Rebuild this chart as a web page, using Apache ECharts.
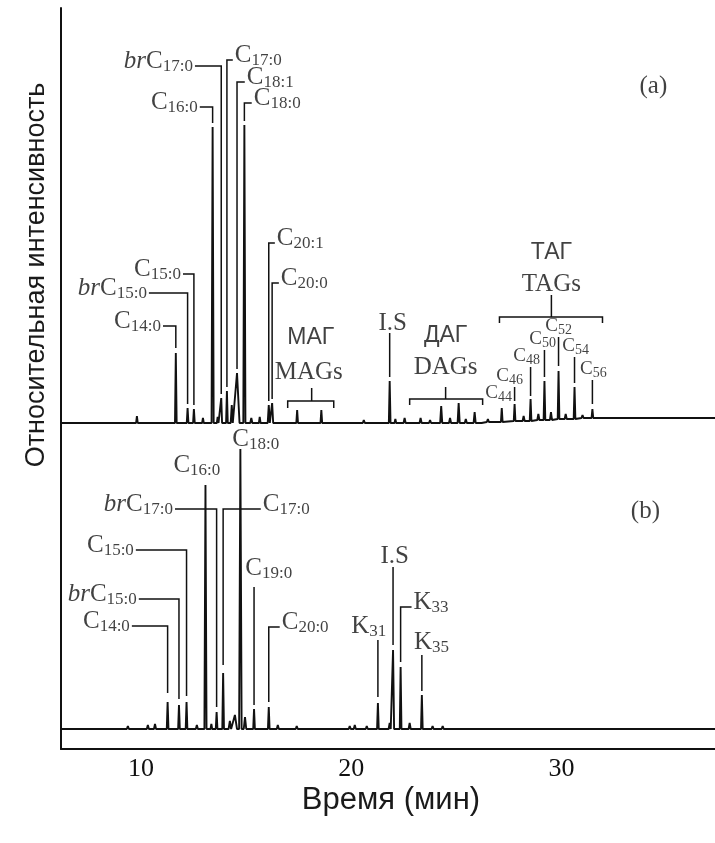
<!DOCTYPE html>
<html><head><meta charset="utf-8">
<script src="https://cdn.jsdelivr.net/npm/echarts@6/dist/echarts.min.js"></script>
<style>html,body{margin:0;padding:0;background:#fff}#c{width:715px;height:843px}</style>
</head><body><div id="c"></div>
<script>
// ---------- DATA ----------
const xRange = [6.2, 37.3];            // retention time axis (min)
const xTickValues = [10, 20, 30];
const yTitle = 'Относительная интенсивность';
const xTitle = 'Время (мин)';

// Panel (a): peaks [time (min), apex intensity, half width (min), local baseline]
const peaksA = [
  [9.81, 7, 0.04, 0], [11.66, 70, 0.04, 0], [12.22, 15, 0.04, 0], [12.52, 14, 0.04, 0],
  [12.95, 5, 0.04, 0], [13.41, 296, 0.05, 0], [13.65, 6, 0.04, 0], [13.82, 25, 0.04, 0],
  [14.09, 32, 0.04, 0], [14.32, 18, 0.05, 0], [14.57, 50, 0.12, 0], [14.92, 298, 0.05, 0],
  [15.25, 5, 0.05, 0], [15.65, 6, 0.04, 0], [16.08, 18, 0.05, 0], [16.24, 20, 0.05, 0],
  [17.43, 13, 0.04, 0], [18.58, 13, 0.04, 0], [20.60, 3, 0.05, 0], [21.83, 42, 0.04, 0],
  [22.10, 4, 0.04, 0], [22.54, 5, 0.05, 0], [23.30, 5, 0.05, 0], [23.75, 3, 0.05, 0],
  [24.28, 17, 0.05, 0], [24.70, 5, 0.05, 0], [25.11, 20, 0.05, 0], [25.45, 4, 0.05, 0],
  [25.87, 11, 0.05, 0], [26.50, 4, 0.05, 1], [27.16, 15, 0.04, 1], [27.77, 19, 0.04, 2],
  [28.20, 7, 0.05, 2], [28.53, 24, 0.04, 2], [28.90, 9, 0.05, 3], [29.19, 42, 0.04, 3],
  [29.50, 11, 0.05, 3], [29.86, 52, 0.04, 4], [30.20, 9, 0.05, 4], [30.62, 36, 0.04, 4],
  [31.00, 8, 0.05, 5], [31.47, 14, 0.04, 5]
];
const baselineA = [[6.2, 0], [26.2, 0], [27.0, 1], [28.0, 2], [29.0, 3], [30.0, 4], [31.2, 5], [32.0, 5], [37.3, 5]];

// Panel (b)
const peaksB = [
  [9.38, 3, 0.05, 0], [10.33, 4, 0.05, 0], [10.67, 5, 0.05, 0], [11.27, 27, 0.04, 0],
  [11.81, 24, 0.04, 0], [12.17, 27, 0.04, 0], [12.66, 4, 0.05, 0], [13.07, 244, 0.05, 0],
  [13.35, 5, 0.04, 0], [13.60, 17, 0.04, 0], [13.91, 56, 0.04, 0], [14.23, 8, 0.06, 0],
  [14.47, 14, 0.10, 0], [14.73, 280, 0.06, 0], [14.95, 12, 0.06, 0], [15.38, 20, 0.04, 0],
  [16.08, 22, 0.04, 0], [16.51, 4, 0.05, 0], [17.41, 3, 0.05, 0], [19.93, 3, 0.05, 0],
  [20.17, 4, 0.05, 0], [20.74, 3, 0.05, 0], [21.27, 26, 0.04, 0], [21.83, 6, 0.05, 0],
  [21.99, 79, 0.05, 0], [22.35, 62, 0.04, 0], [22.78, 6, 0.05, 0], [23.36, 34, 0.04, 0],
  [23.87, 3, 0.05, 0], [24.35, 3, 0.05, 0], [25.30, 2, 0.05, 0]
];
const baselineB = [[6.2, 0], [37.3, 0]];

// ---------- ANNOTATION LAYOUT (data coordinates) ----------
const leadersA = [
  [[11.05, 97], [11.66, 97], [11.66, 75]],
  [[10.38, 130], [12.22, 130], [12.22, 19]],
  [[12.00, 149], [12.52, 149], [12.52, 18]],
  [[12.80, 316], [13.41, 316], [13.41, 300]],
  [[12.57, 357], [13.82, 357], [13.82, 29]],
  [[14.37, 363], [14.09, 363], [14.09, 36]],
  [[14.94, 341], [14.57, 341], [14.57, 54]],
  [[15.27, 320], [14.92, 320], [14.92, 302]],
  [[16.37, 180], [16.08, 180], [16.08, 22]],
  [[16.56, 140], [16.24, 140], [16.24, 24]],
  [[21.83, 90], [21.83, 46]],
  [[27.77, 36], [27.77, 22]],
  [[28.53, 56], [28.53, 27]],
  [[29.19, 73], [29.19, 46]],
  [[29.86, 86], [29.86, 57]],
  [[30.62, 66], [30.62, 40]],
  [[31.47, 43], [31.47, 19]],
  [[16.98, 15], [16.98, 22], [19.17, 22], [19.17, 15]], [[18.12, 22], [18.12, 35]],
  [[22.78, 18], [22.78, 24], [26.25, 24], [26.25, 18]], [[24.49, 24], [24.49, 36]],
  [[27.05, 100], [27.05, 106], [31.95, 106], [31.95, 100]], [[29.52, 106], [29.52, 128]]
];
const leadersB = [
  [[9.57, 103], [11.27, 103], [11.27, 36]],
  [[9.90, 130], [11.81, 130], [11.81, 30]],
  [[9.76, 179], [12.17, 179], [12.17, 33]],
  [[11.62, 220], [13.60, 220], [13.60, 22]],
  [[15.70, 220], [13.91, 220], [13.91, 64]],
  [[15.38, 142], [15.38, 24]],
  [[16.60, 102], [16.08, 102], [16.08, 27]],
  [[21.27, 89], [21.27, 32]],
  [[21.99, 162], [21.99, 84]],
  [[22.87, 122], [22.35, 122], [22.35, 67]],
  [[23.36, 74], [23.36, 38]]
];
// labels: [text(rich), t, v, position]
const labelsA = [
  ['{i|br}{c|C}{s|17:0}', 12.57, 357, 'left'],
  ['{c|C}{s|16:0}', 12.80, 316, 'left'],
  ['{c|C}{s|15:0}', 12.00, 149, 'left'],
  ['{i|br}{c|C}{s|15:0}', 10.38, 130, 'left'],
  ['{c|C}{s|14:0}', 11.05, 97, 'left'],
  ['{c|C}{s|17:0}', 14.37, 363, 'right'],
  ['{c|C}{s|18:1}', 14.94, 341, 'right'],
  ['{c|C}{s|18:0}', 15.27, 320, 'right'],
  ['{c|C}{s|20:1}', 16.37, 180, 'right'],
  ['{c|C}{s|20:0}', 16.56, 140, 'right'],
  ['{c|I.S}', 21.97, 100, 'inside'],
  ['{t|C}{u|44}', 27.01, 30, 'inside'],
  ['{t|C}{u|46}', 27.53, 47, 'inside'],
  ['{t|C}{u|48}', 28.34, 67, 'inside'],
  ['{t|C}{u|50}', 29.10, 84, 'inside'],
  ['{t|C}{u|52}', 29.86, 97, 'inside'],
  ['{t|C}{u|54}', 30.67, 77, 'inside'],
  ['{t|C}{u|56}', 31.52, 54, 'inside'],
  ['{g|МАГ}', 18.08, 85, 'inside'],
  ['{m|MAGs}', 17.98, 51, 'inside'],
  ['{g|ДАГ}', 24.49, 87, 'inside'],
  ['{m|DAGs}', 24.49, 56, 'inside'],
  ['{g|ТАГ}', 29.52, 170, 'inside'],
  ['{m|TAGs}', 29.52, 139, 'inside'],
  ['{p|(a)}', 34.37, 337, 'inside']
];
const labelsB = [
  ['{c|C}{s|14:0}', 9.57, 103, 'left'],
  ['{i|br}{c|C}{s|15:0}', 9.90, 130, 'left'],
  ['{c|C}{s|15:0}', 9.76, 179, 'left'],
  ['{i|br}{c|C}{s|17:0}', 11.62, 220, 'left'],
  ['{c|C}{s|17:0}', 15.70, 220, 'right'],
  ['{c|C}{s|20:0}', 16.60, 102, 'right'],
  ['{c|K}{s|33}', 22.87, 122, 'right'],
  ['{c|C}{s|16:0}', 12.66, 264, 'inside'],
  ['{c|C}{s|18:0}', 15.46, 290, 'inside'],
  ['{c|C}{s|19:0}', 16.08, 161, 'inside'],
  ['{c|K}{s|31}', 20.83, 103, 'inside'],
  ['{c|I.S}', 22.07, 173, 'inside'],
  ['{c|K}{s|35}', 23.82, 87, 'inside'],
  ['{p|(b)}', 33.99, 218, 'inside']
];

// ---------- BUILD ----------
const INK = '#111';
function trace(peaks, knots) {
  const pts = knots.map(k => [k[0], k[1]]);
  peaks.forEach(p => { pts.push([p[0] - p[2], p[3]], [p[0], p[1]], [p[0] + p[2], p[3]]); });
  pts.sort((a, b) => a[0] - b[0]);
  return pts;
}
const rich = {
  c: { fontFamily: 'Liberation Serif', fontSize: 25, lineHeight: 28, color: INK },
  i: { fontFamily: 'Liberation Serif', fontStyle: 'italic', fontSize: 25, lineHeight: 28, color: INK },
  s: { fontFamily: 'Liberation Serif', fontSize: 17, lineHeight: 14, verticalAlign: 'bottom', color: INK },
  t: { fontFamily: 'Liberation Serif', fontSize: 19, lineHeight: 22, color: INK },
  u: { fontFamily: 'Liberation Serif', fontSize: 14, lineHeight: 11, verticalAlign: 'bottom', color: INK },
  g: { fontFamily: 'Liberation Sans', fontSize: 23, lineHeight: 26, color: INK },
  m: { fontFamily: 'Liberation Serif', fontSize: 25, lineHeight: 28, color: INK },
  p: { fontFamily: 'Liberation Serif', fontSize: 25, lineHeight: 28, color: INK }
};
function labelSeries(list, idx) {
  return {
    type: 'scatter', xAxisIndex: idx, yAxisIndex: idx, symbolSize: 0, silent: true, z: 5,
    data: list.map(l => ({
      value: [l[1], l[2]],
      label: {
        show: true, formatter: l[0], rich: rich, position: l[3], distance: 2,
        offset: l[3] === 'inside' ? [0, 0] : [0, -5]
      }
    }))
  };
}
function leaderSeries(list, idx) {
  return {
    type: 'lines', coordinateSystem: 'cartesian2d', polyline: true, xAxisIndex: idx, yAxisIndex: idx,
    silent: true, lineStyle: { color: INK, width: 1.5, opacity: 1 },
    data: list.map(c => ({ coords: c }))
  };
}
const axisLineStyle = { show: true, onZero: false, lineStyle: { color: INK, width: 2 } };
const chart = echarts.init(document.getElementById('c'));
chart.setOption({
  animation: false,
  backgroundColor: '#fff',
  grid: [
    { left: 61, right: 0, top: 8, height: 415 },
    { left: 61, right: 0, top: 423, height: 326 }
  ],
  xAxis: [
    { type: 'value', gridIndex: 0, min: xRange[0], max: xRange[1], show: false },
    { type: 'value', gridIndex: 1, min: xRange[0], max: xRange[1], axisLine: axisLineStyle,
      axisTick: { show: false }, splitLine: { show: false },
      axisLabel: { customValues: xTickValues, margin: 7, color: INK, fontFamily: 'Liberation Serif', fontSize: 26 } }
  ],
  yAxis: [
    { type: 'value', gridIndex: 0, min: 0, max: 415, axisLine: axisLineStyle, axisTick: { show: false },
      axisLabel: { show: false }, splitLine: { show: false } },
    { type: 'value', gridIndex: 1, min: -20, max: 306, axisLine: axisLineStyle, axisTick: { show: false },
      axisLabel: { show: false }, splitLine: { show: false } }
  ],
  graphic: [
    { type: 'text', x: 37, y: 275, rotation: Math.PI / 2,
      style: { text: yTitle, fontFamily: 'Liberation Sans', fontSize: 27, fill: '#1a1a1a', align: 'center', verticalAlign: 'middle', textAlign: 'center', textVerticalAlign: 'middle' } },
    { type: 'text', x: 391, y: 800,
      style: { text: xTitle, fontFamily: 'Liberation Sans', fontSize: 31, fill: '#1a1a1a', align: 'center', verticalAlign: 'middle', textAlign: 'center', textVerticalAlign: 'middle' } }
  ],
  series: [
    { type: 'line', xAxisIndex: 0, yAxisIndex: 0, data: trace(peaksA, baselineA), showSymbol: false, symbol: 'none',
      lineStyle: { color: INK, width: 1.9 }, clip: false, z: 3 },
    { type: 'line', xAxisIndex: 1, yAxisIndex: 1, data: trace(peaksB, baselineB), showSymbol: false, symbol: 'none',
      lineStyle: { color: INK, width: 1.9 }, clip: false, z: 3 },
    leaderSeries(leadersA, 0),
    leaderSeries(leadersB, 1),
    labelSeries(labelsA, 0),
    labelSeries(labelsB, 1)
  ]
});
</script></body></html>
